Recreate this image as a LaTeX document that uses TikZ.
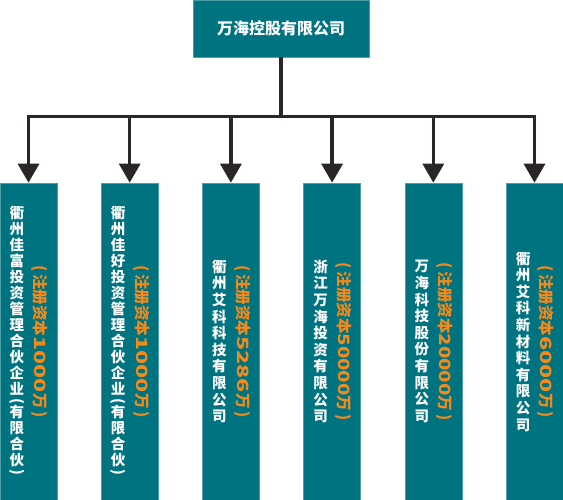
\documentclass[tikz,border=0pt]{standalone}
\usepackage{fontspec}
\usepackage{graphicx}
\newfontfamily\cjk{Noto Sans CJK SC}
\usetikzlibrary{positioning,arrows.meta}
\definecolor{boxteal}{RGB}{0,115,128}
\definecolor{caporange}{RGB}{243,138,28}
\definecolor{linkgray}{RGB}{42,37,38}
\newcommand{\lp}{\rotatebox[origin=c]{-90}{(}}
\newcommand{\rp}{\rotatebox[origin=c]{-90}{)}}
\newcommand{\regcap}[2][1.5]{(\hspace{3pt}注册资本\scalebox{#1}[1]{#2}万\hspace{3pt})}

\begin{document}
\begin{tikzpicture}[x=1pt,y=1pt,
    firm/.style={fill=boxteal, draw=boxteal!70!white, line width=0.6pt, minimum width=57pt, minimum height=317pt, inner sep=0pt},
    parent/.style={fill=boxteal, draw=boxteal!70!white, line width=0.6pt, minimum width=176pt, minimum height=57pt, text=white, font=\cjk\bfseries\fontsize{16}{16}\selectfont},
    firmname/.style={text=white, align=center, inner sep=0pt, font=\cjk\bfseries\fontsize{14.5}{16.6}\selectfont},
    longname/.style={firmname, font=\cjk\bfseries\fontsize{14.5}{16}\selectfont},
    capital/.style={text=caporange, rotate=-90, inner sep=0pt, font=\cjk\bfseries\fontsize{15.5}{15.5}\selectfont},
    link/.style={draw=linkgray, line width=3.3pt, -{Triangle[width=21pt,length=19pt]}}]
    \useasboundingbox (0,0) rectangle (563,500);
    % holding company and bus line
    \node[parent] (hq) at (281,471.5) {万海控股有限公司};
    \coordinate (bus) at (281,383.3);
    % subsidiaries
    \node[firm] (f1) at (28.5,158.5) {};
    \node[firm] (f2) at (129.7,158.5) {};
    \node[firm] (f3) at (230.9,158.5) {};
    \node[firm] (f4) at (332.1,158.5) {};
    \node[firm] (f5) at (433.3,158.5) {};
    \node[firm] (f6) at (534.5,158.5) {};
    \node[longname] (n1) at ([xshift=-11.5pt]f1.center) {衢\\州\\佳\\富\\投\\资\\管\\理\\合\\伙\\企\\业\\[-5pt]\lp\\[-4pt]有\\限\\合\\伙\\[-5pt]\rp};
    \node[longname] (n2) at ([xshift=-11.5pt]f2.center) {衢\\州\\佳\\好\\投\\资\\管\\理\\合\\伙\\企\\业\\[-5pt]\lp\\[-4pt]有\\限\\合\\伙\\[-5pt]\rp};
    \node[firmname] (n3) at ([xshift=-11.5pt]f3.center) {衢\\州\\艾\\科\\科\\技\\有\\限\\公\\司};
    \node[firmname] (n4) at ([xshift=-11.5pt]f4.center) {浙\\江\\万\\海\\投\\资\\有\\限\\公\\司};
    \node[firmname] (n5) at ([xshift=-11.5pt]f5.center) {万\\海\\科\\技\\股\\份\\有\\限\\公\\司};
    \node[firmname] (n6) at ([xshift=-11.5pt]f6.center) {衢\\州\\艾\\科\\新\\材\\料\\有\\限\\公\\司};
    \node[capital] (c1) at ([xshift=11.5pt]f1.center) {\regcap{1000}};
    \node[capital] (c2) at ([xshift=11.5pt]f2.center) {\regcap{1000}};
    \node[capital] (c3) at ([xshift=11.5pt]f3.center) {\regcap{5286}};
    \node[capital] (c4) at ([xshift=11.5pt]f4.center) {\regcap[1.32]{50000}};
    \node[capital] (c5) at ([xshift=11.5pt]f5.center) {\regcap[1.32]{20000}};
    \node[capital] (c6) at ([xshift=11.5pt]f6.center) {\regcap{6000}};
    % connectors
    \draw[draw=linkgray, line width=3.3pt] (hq.south) -- (bus);
    \foreach \i in {1,...,6}
      \draw[link] (bus) -| (f\i.north);
\end{tikzpicture}
\end{document}
